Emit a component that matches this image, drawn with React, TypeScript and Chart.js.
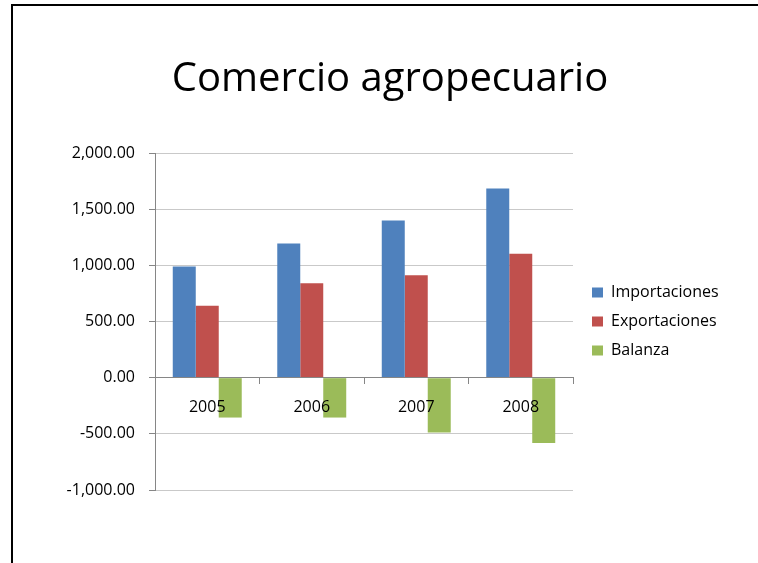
import React, { useEffect, useRef } from "react";
import { Chart, registerables } from "chart.js";

Chart.register(...registerables);

const title = "Comercio agropecuario";
const years = ["2005", "2006", "2007", "2008"];
const importaciones = [990, 1195, 1400, 1685];
const exportaciones = [640, 840, 911, 1104];
const balanza = [-355, -355, -489, -581];
const yTickValues = [-1000, -500, 0, 500, 1000, 1500, 2000];

const FONT = "'Open Sans', sans-serif";

export default function App() {
  const ref = useRef<HTMLCanvasElement | null>(null);

  useEffect(() => {
    if (!ref.current) return;
    const chart = new Chart(ref.current, {
      type: "bar",
      data: {
        labels: years,
        datasets: [
          { label: "Importaciones", data: importaciones, backgroundColor: "#4F81BD" },
          { label: "Exportaciones", data: exportaciones, backgroundColor: "#C0504D" },
          { label: "Balanza", data: balanza, backgroundColor: "#9BBB59" },
        ],
      },
      options: {
        animation: false,
        responsive: true,
        maintainAspectRatio: false,
        layout: { padding: { left: 60, right: 38, top: 0, bottom: 73 } },
        datasets: { bar: { categoryPercentage: 0.66, barPercentage: 1.0 } },
        plugins: {
          title: {
            display: true,
            text: title,
            color: "#000",
            font: { family: FONT, size: 40, weight: "normal" },
            padding: { top: 56, bottom: 49 },
          },
          legend: {
            position: "right",
            align: "center",
            fullSize: false,
            maxWidth: 141,
            labels: {
              boxWidth: 11,
              boxHeight: 10,
              padding: 13,
              color: "#000",
              font: { family: FONT, size: 16 },
            },
          },
          tooltip: { enabled: false },
        },
        scales: {
          x: {
            position: { y: 0 },
            offset: true,
            grid: {
              display: true,
              offset: true,
              drawOnChartArea: false,
              drawTicks: true,
              tickLength: 6,
              tickColor: "#868686",
            },
            border: { display: true, color: "#868686", width: 1, z: 1 },
            ticks: {
              z: 1,
              color: "#000",
              font: { family: FONT, size: 16 },
              padding: 14,
              maxRotation: 0,
            },
          },
          y: {
            min: -1000,
            max: 2000,
            afterBuildTicks: (s: any) => {
              s.ticks = yTickValues.map((v) => ({ value: v }));
            },
            afterFit: (s: any) => {
              s.width = 95;
            },
            grid: {
              color: "#c9c9c9",
              tickColor: "#868686",
              tickLength: 6,
            },
            border: { display: true, color: "#868686", width: 1 },
            ticks: {
              color: "#000",
              font: { family: FONT, size: 16 },
              padding: 14,
              callback: (v: any) =>
                Number(v).toLocaleString("en-US", {
                  minimumFractionDigits: 2,
                  maximumFractionDigits: 2,
                }),
            },
          },
          yR: {
            type: "linear",
            position: "right",
            display: true,
            grid: { display: false },
            border: { display: false },
            ticks: { display: false },
            afterFit: (s: any) => {
              s.width = 6;
            },
          },
        },
      },
    });
    return () => chart.destroy();
  }, []);

  return (
    <div style={{ position: "absolute", left: 0, top: 0, width: 758, height: 563, background: "#fff" }}>
      <div
        style={{
          position: "absolute",
          left: 11,
          top: 4,
          right: 0,
          bottom: 0,
          borderLeft: "2px solid #000",
          borderTop: "2px solid #000",
        }}
      />
      <div style={{ position: "absolute", left: 0, top: 0, width: 758, height: 563 }}>
        <canvas ref={ref} />
      </div>
    </div>
  );
}
